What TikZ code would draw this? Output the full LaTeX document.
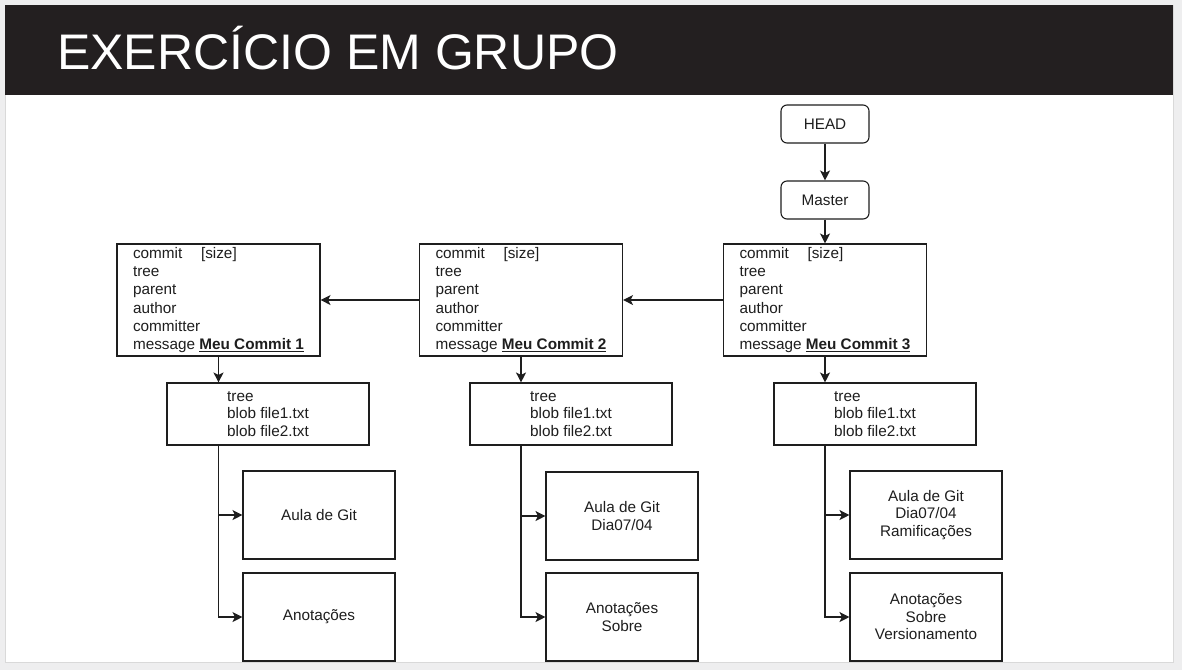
\documentclass[tikz,border=0pt]{standalone}
\usepackage{fontspec}
\setmainfont{Liberation Sans}
\usetikzlibrary{arrows.meta,positioning}
\definecolor{barcol}{HTML}{231F20}
\definecolor{pagecol}{HTML}{EEEEEF}
\definecolor{inkcol}{HTML}{1E1E1E}

\begin{document}
\begin{tikzpicture}[x=1pt,y=-1pt,
  every node/.style={text=inkcol, font=\fontsize{15.3}{17.5}\selectfont},
  commitbox/.style={draw=inkcol, line width=1.1pt, align=left, minimum width=203pt, minimum height=112pt, inner sep=0pt, font=\fontsize{15.3}{18.2}\selectfont},
  treebox/.style={draw=inkcol, line width=1.1pt, align=left, minimum width=202pt, minimum height=62pt, inner sep=0pt},
  blobbox/.style={draw=inkcol, line width=1.1pt, align=center, minimum width=152pt, minimum height=88pt, inner sep=0pt},
  refbox/.style={draw=inkcol, line width=1.1pt, rounded corners=6pt, minimum width=88pt, minimum height=38pt, inner sep=0pt},
  link/.style={draw=inkcol, line width=1.1pt, -{Stealth[length=10pt,width=10pt,inset=2.5pt]}}]
% page and slide
\fill[pagecol] (0,0) rectangle (1182,670);
\fill[white, draw=black!15, line width=1pt] (5,5) rectangle (1173,662);
\fill[barcol] (5,5) rectangle (1173,95);
\node[anchor=west, text=white, font=\fontsize{50}{50}\selectfont, inner sep=0pt](title) at (57,48){EXERCÍCIO EM GRUPO};

% refs
\node[refbox](head) at (825,124){HEAD};
\node[refbox](master) at (825,200){Master};

% commits
\node[commitbox](C1) at (218.5,300){\makebox[68pt][l]{commit}[size]\\tree\\parent\\author\\committer\\message \underline{\textbf{Meu Commit 1}}};
\node[commitbox](C2) at (521,300){\makebox[68pt][l]{commit}[size]\\tree\\parent\\author\\committer\\message \underline{\textbf{Meu Commit 2}}};
\node[commitbox](C3) at (825,300){\makebox[68pt][l]{commit}[size]\\tree\\parent\\author\\committer\\message \underline{\textbf{Meu Commit 3}}};

% trees
\node[treebox](T1) at (268,414){tree\\blob file1.txt\\blob file2.txt};
\node[treebox](T2) at (571,414){tree\\blob file1.txt\\blob file2.txt};
\node[treebox](T3) at (875,414){tree\\blob file1.txt\\blob file2.txt};

% blobs
\node[blobbox](A1) at (319,515){Aula de Git};
\node[blobbox](B1) at (319,617){Anotações};
\node[blobbox](A2) at (622,516){Aula de Git\\Dia07/04};
\node[blobbox](B2) at (622,617){Anotações\\Sobre};
\node[blobbox](A3) at (926,515){Aula de Git\\Dia07/04\\Ramificações};
\node[blobbox](B3) at (926,617){Anotações\\Sobre\\Versionamento};

% arrows
\draw[link] (head) -- (master);
\draw[link] (master) -- (C3);
\draw[link] (C3) -- (C2);
\draw[link] (C2) -- (C1);
\draw[link] (C1.south) -- (C1.south |- T1.north);
\draw[link] (C2.south) -- (C2.south |- T2.north);
\draw[link] (C3.south) -- (C3.south |- T3.north);
\draw[link] (C1.south |- T1.south) |- (A1.west);
\draw[link] (C1.south |- T1.south) |- (B1.west);
\draw[link] (C2.south |- T2.south) |- (A2.west);
\draw[link] (C2.south |- T2.south) |- (B2.west);
\draw[link] (C3.south |- T3.south) |- (A3.west);
\draw[link] (C3.south |- T3.south) |- (B3.west);
\end{tikzpicture}
\end{document}
